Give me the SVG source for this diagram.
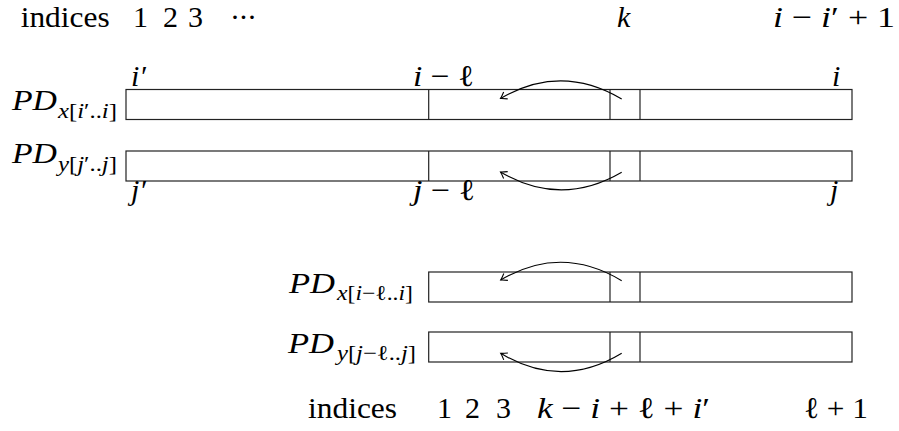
<svg xmlns="http://www.w3.org/2000/svg" width="899" height="431" viewBox="0 0 899 431">
<style>
text{font-family:'Liberation Serif','DejaVu Serif',serif;font-size:30px;fill:#000}
.it{font-style:italic}
.sub{font-size:21px}
.box{fill:#fff;stroke:#222;stroke-width:1.2}
.div{stroke:#222;stroke-width:1.2}
.arc{fill:none;stroke:#000;stroke-width:1.1}
</style>
<defs>
<marker id="to" markerUnits="userSpaceOnUse" markerWidth="14" markerHeight="14" refX="0" refY="0" viewBox="-8 -7 10 14" orient="auto" overflow="visible">
<path d="M-6,-4 Q-2,-1 0,0 Q-2,1 -6,4" fill="none" stroke="#000" stroke-width="1.1"/>
</marker>
</defs>
<rect width="899" height="431" fill="#fff"/>

<g id="top-indices">
<text x="20.7" y="27" textLength="89" lengthAdjust="spacingAndGlyphs">indices</text>
<text x="133" y="27">1</text>
<text x="163" y="27">2</text>
<text x="188" y="27">3</text>
<text x="230" y="27" textLength="27" lengthAdjust="spacing">···</text>
<text x="617" y="27" class="it">k</text>
<text x="773" y="27" textLength="122" lengthAdjust="spacingAndGlyphs"><tspan class="it">i</tspan> − <tspan class="it">i</tspan>′ + 1</text>
</g>

<g id="pdx-full">
<rect class="box" x="126" y="89.5" width="726" height="30"/>
<line class="div" x1="428.7" y1="89.5" x2="428.7" y2="119.5"/>
<line class="div" x1="610" y1="89.5" x2="610" y2="119.5"/>
<line class="div" x1="640" y1="89.5" x2="640" y2="119.5"/>
<text x="12" y="110" class="it" textLength="45" lengthAdjust="spacingAndGlyphs">PD</text>
<text x="58" y="118" class="sub" textLength="59" lengthAdjust="spacingAndGlyphs"><tspan class="it">x</tspan>[<tspan class="it">i</tspan>′..<tspan class="it">i</tspan>]</text>
<text x="131" y="86" class="it">i′</text>
<text x="413" y="86" textLength="61" lengthAdjust="spacingAndGlyphs"><tspan class="it">i</tspan> − ℓ</text>
<text x="832" y="86" class="it">i</text>
</g>

<g id="pdy-full">
<rect class="box" x="126" y="151" width="726" height="30"/>
<line class="div" x1="428.7" y1="151" x2="428.7" y2="181"/>
<line class="div" x1="610" y1="151" x2="610" y2="181"/>
<line class="div" x1="640" y1="151" x2="640" y2="181"/>
<text x="12" y="163" class="it" textLength="45" lengthAdjust="spacingAndGlyphs">PD</text>
<text x="58" y="171" class="sub" textLength="59" lengthAdjust="spacingAndGlyphs"><tspan class="it">y</tspan>[<tspan class="it">j</tspan>′..<tspan class="it">j</tspan>]</text>
<text x="131" y="200" class="it">j′</text>
<text x="413" y="200" textLength="62" lengthAdjust="spacingAndGlyphs"><tspan class="it">j</tspan> − ℓ</text>
<text x="830" y="200" class="it">j</text>
</g>

<g id="pdx-part">
<rect class="box" x="428.7" y="272" width="423.3" height="30"/>
<line class="div" x1="610" y1="272" x2="610" y2="302"/>
<line class="div" x1="640" y1="272" x2="640" y2="302"/>
<text x="289" y="293" class="it" textLength="46" lengthAdjust="spacingAndGlyphs">PD</text>
<text x="337" y="300" class="sub" textLength="76" lengthAdjust="spacingAndGlyphs"><tspan class="it">x</tspan>[<tspan class="it">i</tspan>−ℓ..<tspan class="it">i</tspan>]</text>
</g>

<g id="pdy-part">
<rect class="box" x="428.7" y="332" width="423.3" height="30"/>
<line class="div" x1="610" y1="332" x2="610" y2="362"/>
<line class="div" x1="640" y1="332" x2="640" y2="362"/>
<text x="288" y="353" class="it" textLength="46" lengthAdjust="spacingAndGlyphs">PD</text>
<text x="337" y="360" class="sub" textLength="79" lengthAdjust="spacingAndGlyphs"><tspan class="it">y</tspan>[<tspan class="it">j</tspan>−ℓ..<tspan class="it">j</tspan>]</text>
</g>

<g id="bottom-indices">
<text x="308" y="418" textLength="89" lengthAdjust="spacingAndGlyphs">indices</text>
<text x="437" y="418">1</text>
<text x="465" y="418">2</text>
<text x="496" y="418">3</text>
<text x="537" y="418" textLength="173" lengthAdjust="spacingAndGlyphs"><tspan class="it">k</tspan> − <tspan class="it">i</tspan> + ℓ + <tspan class="it">i</tspan>′</text>
<text x="804" y="418" textLength="64" lengthAdjust="spacingAndGlyphs">ℓ + 1</text>
</g>

<g id="connectors">
<path class="arc" d="M621.7,99 Q561,63 500.5,98.5" marker-end="url(#to)"/>
<path class="arc" d="M621.7,172.3 Q561,207.7 500.5,172" marker-end="url(#to)"/>
<path class="arc" d="M621.7,280.7 Q561,244.2 500.7,280" marker-end="url(#to)"/>
<path class="arc" d="M621.7,353.3 Q561,390 500.7,353.3" marker-end="url(#to)"/>
</g>
</svg>
